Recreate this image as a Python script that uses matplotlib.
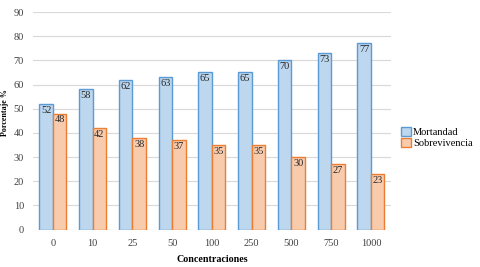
import matplotlib
matplotlib.use("Agg")
import matplotlib.pyplot as plt
import numpy as np

categorias = ["0", "10", "25", "50", "100", "250", "500", "750", "1000"]
mortandad = [52, 58, 62, 63, 65, 65, 70, 73, 77]
sobrevivencia = [48, 42, 38, 37, 35, 35, 30, 27, 23]

plt.rcParams['font.family'] = ['Liberation Serif', 'DejaVu Serif']

fig = plt.figure(figsize=(4.81, 2.67), dpi=100)
ax = fig.add_axes([0.0686, 0.1404, 0.744, 0.8146])

x = np.arange(len(categorias))
w = 0.34
b1 = ax.bar(x - w/2, mortandad, w, color="#BDD7EE", edgecolor="#5B9BD5", linewidth=1.0, label="Mortandad", zorder=3)
b2 = ax.bar(x + w/2, sobrevivencia, w, color="#F8CBAD", edgecolor="#ED7D31", linewidth=1.0, label="Sobrevivencia", zorder=3)

for rect, v in zip(b1, mortandad):
    ax.text(rect.get_x() + rect.get_width()/2, v - 0.8, str(v), ha="center", va="top", fontsize=7.5, color="#262626", zorder=4)
for rect, v in zip(b2, sobrevivencia):
    ax.text(rect.get_x() + rect.get_width()/2, v - 0.8, str(v), ha="center", va="top", fontsize=7.5, color="#262626", zorder=4)

ax.set_ylim(0, 90)
ax.set_yticks(range(0, 91, 10))
ax.set_xlim(-0.5, len(categorias) - 0.5)
ax.set_xticks(x)
ax.set_xticklabels(categorias)
ax.tick_params(axis="both", length=0, labelsize=7.5, colors="#404040")
ax.tick_params(axis="x", pad=7)
ax.tick_params(axis="y", pad=6.5)
ax.grid(axis="y", color="#D9D9D9", linewidth=0.8, zorder=0)
for s in ax.spines.values():
    s.set_visible(False)

ax.set_xlabel("Concentraciones", fontsize=7.2, fontweight="bold", color="#000000", labelpad=5)
ax.set_ylabel("Porcentaje %", fontsize=5.8, fontweight="bold", color="#000000")
ax.yaxis.set_label_coords(-0.066, 0.54)

fig.legend(handles=[b1, b2], loc="center left", bbox_to_anchor=(0.826, 0.485), frameon=False,
           fontsize=7.5, handlelength=0.9, handleheight=0.9, handletextpad=0.2, labelspacing=0.1,
           borderaxespad=0)

fig.savefig("out.png", dpi=100)
